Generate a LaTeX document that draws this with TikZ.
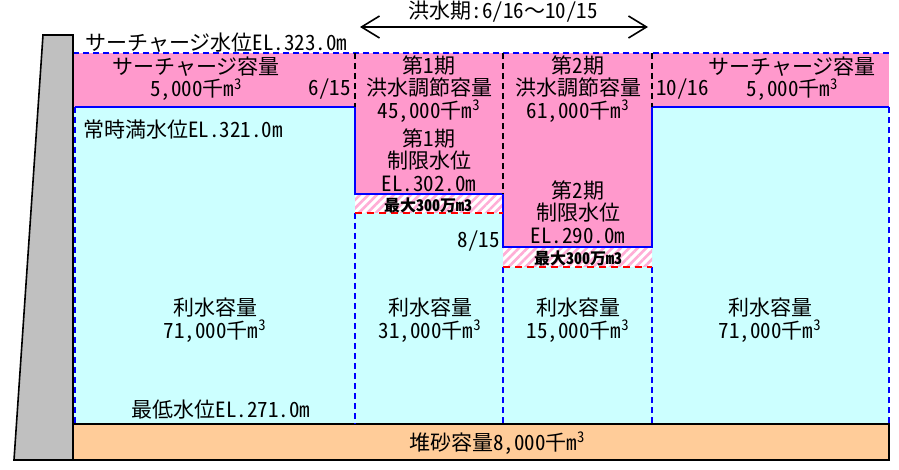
\documentclass[tikz,border=0pt]{standalone}
\usepackage{fontspec}
\setmainfont{Noto Sans CJK JP}[RawFeature=+hwid]
\newfontfamily\fullwidthfont{Noto Sans CJK JP}
\usepackage{tikz}
\usetikzlibrary{arrows.meta,patterns.meta}

\definecolor{floodpink}{HTML}{FF99CC}
\definecolor{usecyan}{HTML}{CCFFFF}
\definecolor{sandorange}{HTML}{FFCC99}
\definecolor{damgray}{HTML}{C0C0C0}

\begin{document}
\begin{tikzpicture}[
    x=1pt, y=-1pt,
    label_txt/.style={inner sep=0pt, align=center, font=\fontsize{21}{22.5}\selectfont},
    max_txt/.style={inner sep=0pt, font=\fontsize{16}{17}\selectfont\bfseries},
    level_line/.style={blue, line width=1.6pt},
    level_dash/.style={blue, line width=1.6pt, dash pattern=on 6pt off 4pt},
    period_dash/.style={black, line width=1.2pt, dash pattern=on 6pt off 4pt},
    hatch/.style={pattern={Lines[angle=45, distance=6pt, line width=2.6pt]}, pattern color=floodpink!80},
    >={Straight Barb[length=18pt, width=22pt, line width=1.6pt]}
]
    \useasboundingbox (0,0) rectangle (899,470);

    % Storage zones
    \fill[usecyan] (73,107) rectangle (889,424);
    \fill[floodpink] (73,53) rectangle (889,107);
    \fill[floodpink] (355,107) rectangle (503,194);
    \fill[floodpink] (503,107) rectangle (652,247);
    \fill[white] (355,194) rectangle (503,213);
    \fill[hatch] (355,194) rectangle (503,213);
    \fill[white] (503,247) rectangle (652,267);
    \fill[hatch] (503,247) rectangle (652,267);
    \draw[black, line width=1.6pt, fill=sandorange] (73,424) rectangle (889,460);

    % Water levels
    \draw[level_dash] (73,53) -- (889,53);
    \draw[level_line] (75,107) -- (355,107) -- (355,194) -- (503,194) -- (503,247) -- (652,247) -- (652,107) -- (889,107);
    \draw[level_dash] (75,107) -- (75,424);
    \draw[level_dash] (889,107) -- (889,424);
    \draw[level_dash] (355,213) -- (355,424);
    \draw[level_dash] (503,267) -- (503,424);
    \draw[level_dash] (652,267) -- (652,424);
    \draw[red, line width=1.4pt, dash pattern=on 7pt off 5pt] (355,213) -- (503,213);
    \draw[red, line width=1.4pt, dash pattern=on 7pt off 5pt] (503,267) -- (652,267);

    % Period boundaries
    \draw[period_dash] (355,53) -- (355,107);
    \draw[period_dash] (503,53) -- (503,194);
    \draw[period_dash] (652,53) -- (652,107);

    % Dam body
    \draw[black, line width=1.6pt, fill=damgray] (43,35) -- (73,35) -- (73,460) -- (14,460) -- cycle;

    % Flood season arrow
    \coordinate (flood_start) at (360,27);
    \coordinate (flood_end) at (648,27);
    \draw[<->, line width=1.6pt] (flood_start) -- (flood_end);
    \node[label_txt] (flood_season) at (503,12) {洪水期:6/16{\fullwidthfont ～}10/15};

    % Labels
    \node[label_txt, anchor=west] (surcharge_level) at (85,43) {サーチャージ水位EL.323.0m};
    \node[label_txt] (surcharge_left) at (196,78.5) {サーチャージ容量\\5,000千m\textsuperscript{3}};
    \node[label_txt, anchor=east] (date_0615) at (351,89) {6/15};
    \node[label_txt] (flood_cap1) at (429,89) {第1期\\洪水調節容量\\45,000千m\textsuperscript{3}};
    \node[label_txt] (limit_level1) at (429,160) {第1期\\制限水位\\EL.302.0m};
    \node[label_txt] (flood_cap2) at (578,89) {第2期\\洪水調節容量\\61,000千m\textsuperscript{3}};
    \node[label_txt] (limit_level2) at (578,212) {第2期\\制限水位\\EL.290.0m};
    \node[label_txt, anchor=west] (date_1016) at (656,89) {10/16};
    \node[label_txt] (surcharge_right) at (792,78.5) {サーチャージ容量\\5,000千m\textsuperscript{3}};
    \node[label_txt, anchor=west] (normal_level) at (83,130) {常時満水位EL.321.0m};
    \node[label_txt, anchor=east] (date_0815) at (500,241) {8/15};
    \node[max_txt] (max_vol1) at (428,205) {最大300万m3};
    \node[max_txt] (max_vol2) at (578,258) {最大300万m3};
    \node[label_txt] (water_use0) at (215,320) {利水容量\\71,000千m\textsuperscript{3}};
    \node[label_txt] (water_use1) at (430,320) {利水容量\\31,000千m\textsuperscript{3}};
    \node[label_txt] (water_use2) at (578,320) {利水容量\\15,000千m\textsuperscript{3}};
    \node[label_txt] (water_use3) at (770,320) {利水容量\\71,000千m\textsuperscript{3}};
    \node[label_txt] (low_level) at (221,410) {最低水位EL.271.0m};
    \node[label_txt] (sediment) at (497,443) {堆砂容量8,000千m\textsuperscript{3}};
\end{tikzpicture}
\end{document}
